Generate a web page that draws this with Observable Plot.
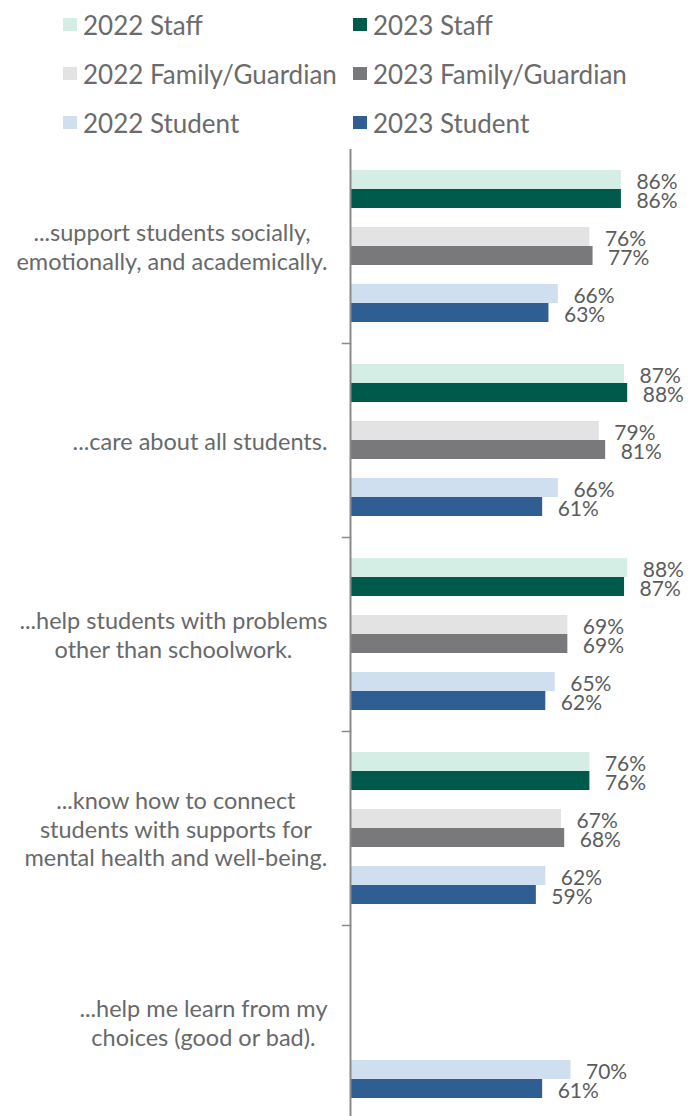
<!DOCTYPE html>
<html>
<head>
<meta charset="utf-8">
<script src="https://cdn.jsdelivr.net/npm/d3@7"></script>
<script src="https://cdn.jsdelivr.net/npm/@observablehq/plot@0.6"></script>
<style>
  html, body { margin: 0; padding: 0; background: #fff; }
  body { width: 688px; font-family: Lato, "Open Sans", sans-serif; }
  #legend { height: 147px; box-sizing: border-box; padding-left: 63px; display: grid;
            grid-template-columns: 290px 290px; grid-auto-rows: 49px; }
  .item { display: flex; align-items: center; font-size: 26px; color: #6b6b6b; white-space: nowrap; }
  .sw { width: 14px; height: 13px; margin-right: 6px; flex: none; }
  svg { display: block; }
</style>
</head>
<body>
<div id="legend"></div>
<div id="chart"></div>
<script>
const questions = [
  "...support students socially,\nemotionally, and academically.",
  "...care about all students.",
  "...help students with problems\nother than schoolwork.",
  "...know how to connect\nstudents with supports for\nmental health and well-being.",
  "...help me learn from my\nchoices (good or bad)."
];
const seriesNames = ["2022 Staff", "2023 Staff", "2022 Family/Guardian", "2023 Family/Guardian", "2022 Student", "2023 Student"];
const seriesColors = ["#d5eee5", "#005a4c", "#e3e3e3", "#79797b", "#d0dff0", "#2f5e92"];
const staff2022 = [86, 87, 88, 76, null];
const staff2023 = [86, 88, 87, 76, null];
const family2022 = [76, 79, 69, 67, null];
const family2023 = [77, 81, 69, 68, null];
const student2022 = [66, 66, 65, 62, 70];
const student2023 = [63, 61, 62, 59, 61];

const seriesValues = [staff2022, staff2023, family2022, family2023, student2022, student2023];
const data = [];
questions.forEach((q, i) => {
  seriesNames.forEach((s, j) => {
    const v = seriesValues[j][i];
    if (v != null) data.push({question: q, series: s, value: v});
  });
});

// within-question band layout: spacer, pair, spacer, pair, spacer, pair, spacer
const yDomain = ["_a", seriesNames[0], seriesNames[1], "_b", seriesNames[2], seriesNames[3], "_c", seriesNames[4], seriesNames[5], "_d"];

// legend (2 columns, 3 rows: 2022 left, 2023 right)
const legend = document.getElementById("legend");
seriesNames.forEach((s, j) => {
  const el = document.createElement("div");
  el.className = "item";
  el.innerHTML = `<span class="sw" style="background:${seriesColors[j]}"></span><span>${s}</span>`;
  legend.appendChild(el);
});

const width = 688, marginLeft = 350, marginRight = 23;
const axisColor = "#8a8a8a";

const chart = Plot.plot({
  width,
  height: 973,
  marginTop: 0,
  marginBottom: 0,
  marginLeft,
  marginRight,
  style: {fontFamily: "Lato, 'Open Sans', sans-serif"},
  x: {domain: [0, 100], axis: null},
  y: {domain: yDomain, padding: 0, axis: null},
  fy: {domain: questions, padding: 0, label: null},
  color: {domain: seriesNames, range: seriesColors},
  marks: [
    Plot.axisFy({anchor: "left", tickSize: 0, tickPadding: 23, fontSize: 23.5, lineHeight: 1.2, fill: "#67696b", label: null}),
    Plot.barX(data, {fy: "question", y: "series", x: "value", fill: "series"}),
    Plot.text(data, {fy: "question", y: "series", x: "value", text: d => d.value + "%", textAnchor: "start", dx: 15, dy: 2, fontSize: 21, fill: "#5c5c5c"}),
    Plot.ruleX([0], {stroke: axisColor, strokeWidth: 2}),
    Plot.frame({anchor: "bottom", stroke: axisColor, strokeWidth: 1.5, insetLeft: -8, insetRight: width - marginLeft - marginRight})
  ]
});
document.getElementById("chart").appendChild(chart);

// center the lines of each multi-line category label within its right-aligned block
chart.querySelectorAll('g[aria-label="fy-axis tick label"] text').forEach(t => {
  const w = t.getBBox().width;
  t.setAttribute("text-anchor", "middle");
  const tr = t.getAttribute("transform") || "";
  t.setAttribute("transform", tr + ` translate(${-w / 2},0)`);
});
</script>
</body>
</html>
